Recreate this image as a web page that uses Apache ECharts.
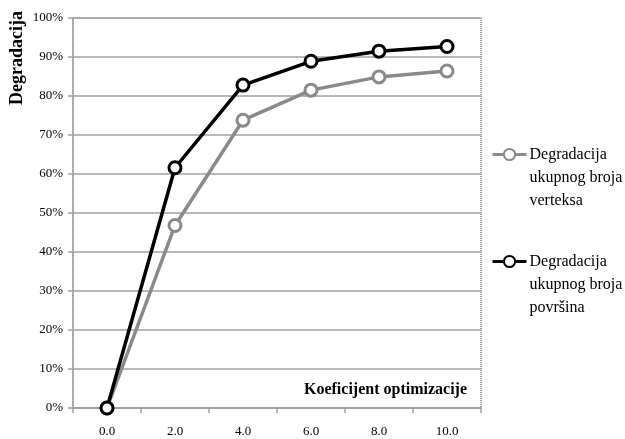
<!DOCTYPE html>
<html>
<head>
<meta charset="utf-8">
<script src="https://cdn.jsdelivr.net/npm/echarts@6/dist/echarts.min.js"></script>
<style>html,body{margin:0;padding:0;background:#fff}#c{width:625px;height:439px}</style>
</head>
<body>
<div id="c"></div>
<script>
var categories = ['0.0', '2.0', '4.0', '6.0', '8.0', '10.0'];
var verteksa = [0, 0.468, 0.738, 0.815, 0.849, 0.864];
var povrsina = [0, 0.616, 0.828, 0.889, 0.915, 0.927];
var seriesNames = ['Degradacija\nukupnog broja\nverteksa', 'Degradacija\nukupnog broja\npovršina'];
var yAxisTitle = 'Degradacija';
var xAxisTitle = 'Koeficijent optimizacije';

var FONT = '"Liberation Serif", "Times New Roman", serif';
var chart = echarts.init(document.getElementById('c'));
chart.setOption({
  animation: false,
  backgroundColor: '#fff',
  grid: { left: 73, right: 144, top: 18, bottom: 31, show: true, borderColor: '#333', borderWidth: 1, borderType: [1, 1] },
  xAxis: {
    type: 'category', data: categories, boundaryGap: true,
    axisLine: { lineStyle: { color: '#a0a0a0', width: 1.5 } },
    axisTick: { show: true, length: 5, lineStyle: { color: '#a0a0a0', width: 1.5 } },
    axisLabel: { color: '#000', fontFamily: FONT, fontSize: 13, margin: 17 },
    splitLine: { show: false }
  },
  yAxis: {
    type: 'value', min: 0, max: 1, interval: 0.1,
    axisLine: { show: true, lineStyle: { color: '#a0a0a0', width: 1.5 } },
    axisTick: { show: true, length: 5, lineStyle: { color: '#a0a0a0', width: 1.5 } },
    axisLabel: { color: '#000', fontFamily: FONT, fontSize: 13, margin: 10,
      formatter: function (v) { return Math.round(v * 100) + '%'; } },
    splitLine: { lineStyle: { color: '#a0a0a0', width: 1.5 } }
  },
  legend: {
    orient: 'vertical', left: 491, top: 97, padding: 0, itemGap: -8, itemWidth: 34, itemHeight: 14,
    lineStyle: { width: 3 },
    formatter: function (n) { return '\n\n' + n; },
    textStyle: { fontFamily: FONT, fontSize: 16, lineHeight: 23, color: '#000', padding: [0, 0, 0, -2] },
    data: seriesNames
  },
  graphic: [
    { type: 'text', x: 17, y: 58, rotation: Math.PI / 2,
      style: { text: yAxisTitle, font: 'bold 18px ' + FONT, fill: '#000', align: 'center', verticalAlign: 'middle' } },
    { type: 'text', x: 467, y: 390,
      style: { text: xAxisTitle, font: 'bold 16px ' + FONT, fill: '#000', align: 'right', verticalAlign: 'middle' } }
  ],
  series: [
    { name: seriesNames[0], type: 'line', data: verteksa, symbol: 'circle', symbolSize: 12,
      lineStyle: { color: '#8a8a8a', width: 3.5 },
      itemStyle: { color: '#fff', borderColor: '#8a8a8a', borderWidth: 3 }, z: 2 },
    { name: seriesNames[1], type: 'line', data: povrsina, symbol: 'circle', symbolSize: 12,
      lineStyle: { color: '#000', width: 3.5 },
      itemStyle: { color: '#fff', borderColor: '#000', borderWidth: 3 }, z: 3 }
  ]
});
</script>
</body>
</html>
